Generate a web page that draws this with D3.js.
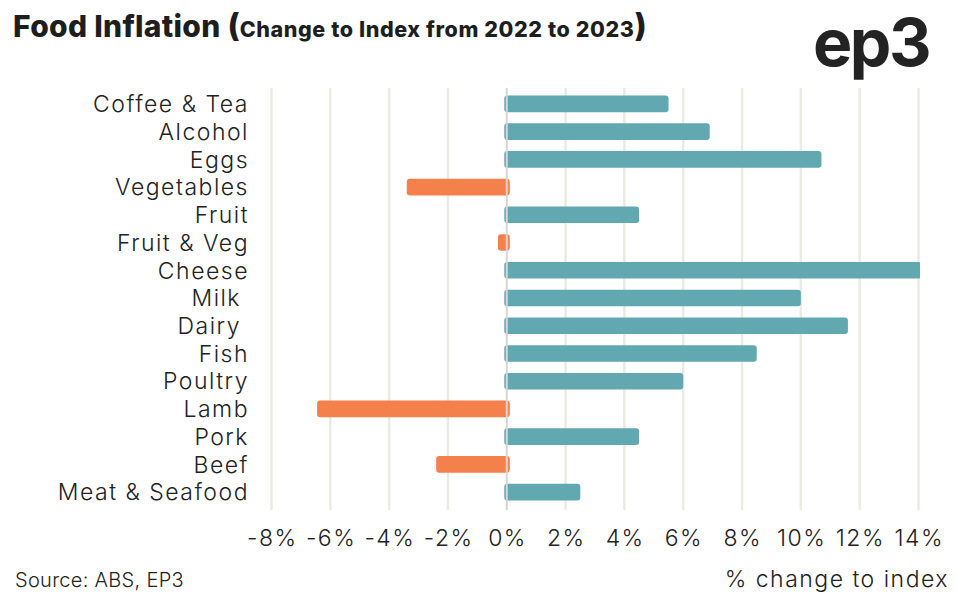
<!DOCTYPE html>
<html><head><meta charset="utf-8">
<script src="https://cdn.jsdelivr.net/npm/d3@7"></script>
<style>
body{margin:0;background:#fff;}
svg{display:block;font-family:Inter, "Noto Sans", sans-serif;}
</style></head>
<body>
<svg id="c" width="956" height="597"></svg>
<script>
const categories = ["Coffee & Tea","Alcohol","Eggs","Vegetables","Fruit","Fruit & Veg","Cheese","Milk ","Dairy ","Fish","Poultry","Lamb","Pork","Beef","Meat & Seafood"];
const values = [5.5, 6.9, 10.7, -3.4, 4.5, -0.3, 14.1, 10.0, 11.6, 8.5, 6.0, -6.45, 4.5, -2.4, 2.5];
const tickValues = [-8,-6,-4,-2,0,2,4,6,8,10,12,14];
const tickLabels = ["-8%","-6%","-4%","-2%","0%","2%","4%","6%","8%","10%","12%","14%"];

const svg = d3.select("#c");
const x = d3.scaleLinear().domain([-8,14]).range([271.5,918.5]);
const y = d3.scaleBand().domain(categories).range([90,506]).paddingInner(0.4).paddingOuter(0.2);

// grid
svg.append("g").selectAll("line").data(tickValues.filter(d=>d!==0)).join("line")
  .attr("x1",d=>x(d)).attr("x2",d=>x(d)).attr("y1",88).attr("y2",510)
  .attr("stroke","#ecebe1").attr("stroke-width",2.5);

svg.append("clipPath").attr("id","clip").append("rect")
  .attr("x",0).attr("y",0).attr("width",x(14)+1.5).attr("height",597);

const z = x(0);
svg.append("g").attr("clip-path","url(#clip)").selectAll("rect").data(categories).join("rect")
  .attr("x",(d,i)=> values[i]>=0 ? z-2.5 : x(values[i]))
  .attr("width",(d,i)=> values[i]>=0 ? x(values[i])-z+2.5 : z-x(values[i])+3)
  .attr("y",d=>y(d)).attr("height",y.bandwidth())
  .attr("rx",3).attr("ry",3)
  .attr("fill",(d,i)=> values[i]>=0 ? "#62a8b0" : "#f4804c");

// zero line
svg.append("line").attr("x1",z).attr("x2",z).attr("y1",88).attr("y2",510)
  .attr("stroke","#d6d6d6").attr("stroke-width",2);

// category labels
svg.append("g").selectAll("text").data(categories).join("text")
  .attr("x",249).attr("y",d=>y(d)+y.bandwidth()/2).attr("dy","0.36em")
  .attr("text-anchor","end").attr("font-size",23).attr("font-weight",300)
  .attr("letter-spacing",1.5).attr("fill","#222")
  .style("white-space","pre")
  .text(d=>d);

// x ticks
svg.append("g").selectAll("text").data(tickValues).join("text")
  .attr("x",d=>x(d)+0.75).attr("y",546).attr("text-anchor","middle")
  .attr("font-size",23).attr("font-weight",300).attr("letter-spacing",1.5).attr("fill","#222")
  .text((d,i)=>tickLabels[i]);

// title
const t = svg.append("text").attr("x",13).attr("y",37).attr("fill","#1e1e1e").attr("font-weight",800);
t.append("tspan").attr("font-size",30).attr("letter-spacing",0.3).text("Food Inflation ");
t.append("tspan").attr("font-size",32).text("(");
t.append("tspan").attr("font-size",21.5).attr("letter-spacing",0.6).text("Change to Index from 2022 to 2023");
t.append("tspan").attr("font-size",32).text(")");

// logo
svg.append("text").attr("x",929).attr("y",66).attr("text-anchor","end")
  .attr("font-size",66).attr("font-weight",700).attr("letter-spacing",-2.5).attr("fill","#232323").text("ep3");

// footer
svg.append("text").attr("x",15).attr("y",587).attr("font-size",20).attr("font-weight",300).attr("letter-spacing",0.3).attr("fill","#222").text("Source: ABS, EP3");
svg.append("text").attr("x",949).attr("y",587).attr("text-anchor","end").attr("font-size",23).attr("font-weight",300).attr("letter-spacing",1.5).attr("fill","#222").text("% change to index");
</script>
</body></html>
